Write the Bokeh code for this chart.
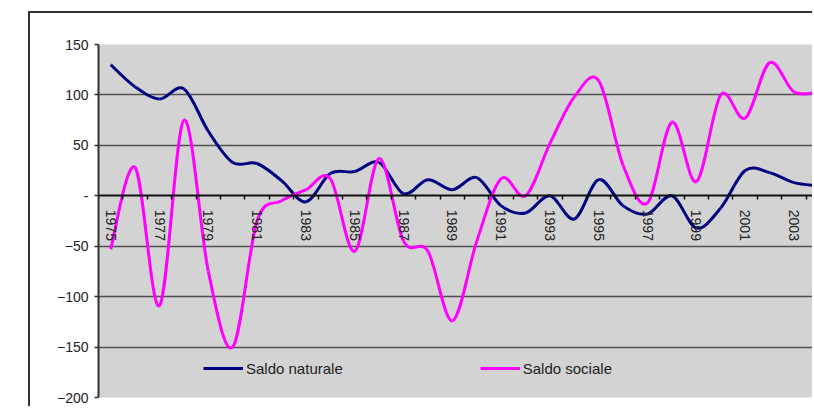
import numpy as np
from bokeh.plotting import figure
from bokeh.models import Range1d, FixedTicker, LinearAxis, Legend, LegendItem, ColumnDataSource, Grid
from bokeh.embed import file_html
from bokeh.resources import INLINE

# ---- data ----
years = list(range(1975, 2005))
saldo_naturale = [130, 108, 96, 106, 64, 33, 32, 15, -6, 22,
                  24, 33, 2, 16, 6, 18, -10, -17, 0, -23,
                  16, -10, -18, 0, -32, -12, 25, 23, 13, 10]
saldo_sociale = [-53, 28, -109, 75, -75, -150, -25, -5, 6, 17,
                 -55, 37, -45, -55, -124, -45, 17, 0, 52, 98,
                 114, 30, -7, 73, 14, 100, 77, 132, 103, 103]
label_years = [1975, 1977, 1979, 1981, 1983, 1985, 1987, 1989, 1991,
               1993, 1995, 1997, 1999, 2001, 2003]
y_ticks = [-200, -150, -100, -50, 0, 50, 100, 150]
y_grid = [-150, -100, -50, 50, 100]
series_names = ["Saldo naturale", "Saldo sociale"]
series_colors = ["#000080", "#FF00FF"]

FONT = "Liberation Sans"


def bezier_source(xs, vals):
    x = np.array(xs, float)
    y = np.array(vals, float)
    n = len(x)
    xp = np.concatenate([[x[0]], x, [x[-1]]])
    yp = np.concatenate([[y[0]], y, [y[-1]]])
    k = 1.0 / 6.0
    return ColumnDataSource(dict(
        x0=x[:-1], y0=y[:-1], x1=x[1:], y1=y[1:],
        cx0=x[:-1] + (xp[2:n + 1] - xp[0:n - 1]) * k,
        cy0=y[:-1] + (yp[2:n + 1] - yp[0:n - 1]) * k,
        cx1=x[1:] - (xp[3:n + 2] - xp[1:n]) * k,
        cy1=y[1:] - (yp[3:n + 2] - yp[1:n]) * k,
    ))


p = figure(width=784, height=395,
           x_range=Range1d(1974.5, 2003.84), y_range=Range1d(y_ticks[0], y_ticks[-1]),
           output_backend="svg", toolbar_location=None,
           x_axis_location=None, y_axis_location="left",
           min_border_left=68, min_border_top=31, min_border_bottom=11,
           min_border_right=0)
p.margin = (11, 0, 0, 28)
p.styles = {"border-left": "2px solid #333333", "border-top": "2px solid #333333",
            "border-right": "none", "border-bottom": "none",
            "outline": "none", "box-shadow": "none", "overflow": "hidden"}

p.background_fill_color = "#d3d3d3"
p.border_fill_color = "white"
p.outline_line_color = None

p.xgrid.visible = False
p.ygrid.ticker = FixedTicker(ticks=y_grid)
p.ygrid.grid_line_color = "#505050"
p.ygrid.grid_line_width = 1.5
p.add_layout(Grid(dimension=1, ticker=FixedTicker(ticks=[y_ticks[0], y_ticks[-1]]),
                  grid_line_color="#a8a8a8", grid_line_width=2))

ya = p.yaxis[0]
ya.ticker = FixedTicker(ticks=y_ticks)
ya.major_label_overrides = {0: "-"}
ya.major_tick_out = 4
ya.major_tick_in = 0
ya.minor_tick_out = 0
ya.minor_tick_in = 0
ya.axis_line_color = "#303030"
ya.axis_line_width = 2
ya.major_tick_line_color = "#303030"
ya.major_tick_line_width = 1.5
ya.major_label_standoff = 6
ya.major_label_text_font = FONT
ya.major_label_text_font_size = "14px"
ya.major_label_text_color = "#222222"

renderers = []
for vals, color in zip([saldo_naturale, saldo_sociale], series_colors):
    src = bezier_source(years, vals)
    r = p.bezier(x0="x0", y0="y0", x1="x1", y1="y1", cx0="cx0", cy0="cy0",
                 cx1="cx1", cy1="cy1", source=src, line_color=color, line_width=3)
    renderers.append(r)

boundaries = [y - 0.5 for y in years] + [years[-1] + 0.5]
tick_axis = LinearAxis(fixed_location=0, ticker=FixedTicker(ticks=boundaries),
                       major_tick_out=4, major_tick_in=0, minor_tick_out=0, minor_tick_in=0,
                       axis_line_color="#111111", axis_line_width=2,
                       major_tick_line_color="#111111", major_tick_line_width=1.5,
                       major_label_text_color=None)
lab_axis = LinearAxis(fixed_location=0, ticker=FixedTicker(ticks=label_years),
                      major_tick_out=0, major_tick_in=0, minor_tick_out=0, minor_tick_in=0,
                      axis_line_color=None, major_tick_line_color=None,
                      major_label_orientation="vertical", major_label_standoff=14,
                      major_label_text_font=FONT, major_label_text_font_size="14px",
                      major_label_text_color="#222222")
p.add_layout(tick_axis, "below")
p.add_layout(lab_axis, "below")

legend = Legend(items=[LegendItem(label=n, renderers=[r]) for n, r in zip(series_names, renderers)],
                orientation="horizontal", location=(105, 19),
                background_fill_alpha=0, border_line_color=None,
                padding=0, margin=0, spacing=137, glyph_width=40, glyph_height=20,
                label_standoff=3, label_text_font=FONT, label_text_font_size="15px",
                label_text_color="#222222")
p.add_layout(legend)

open("out.html", "w").write(file_html(p, INLINE))
